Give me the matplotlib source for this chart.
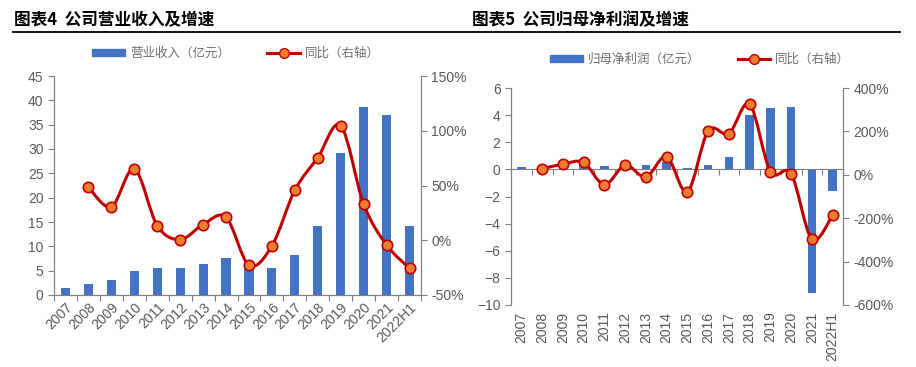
import numpy as np
import matplotlib
matplotlib.use("Agg")
import matplotlib.pyplot as plt
from matplotlib.path import Path
from matplotlib.patches import PathPatch
from matplotlib.lines import Line2D

plt.rcParams['font.family'] = ['Liberation Sans', 'Noto Sans CJK SC', 'DejaVu Sans']

# ---- data ----
years = ['2007', '2008', '2009', '2010', '2011', '2012', '2013', '2014',
         '2015', '2016', '2017', '2018', '2019', '2020', '2021', '2022H1']

revenue = [1.5, 2.3, 3.0, 4.9, 5.5, 5.6, 6.3, 7.7,
           5.8, 5.5, 8.2, 14.2, 29.1, 38.6, 36.9, 14.2]
revenue_yoy = [None, 48.4, 30.4, 65.1, 13.4, 0.6, 14.3, 21.0,
               -22.8, -5.2, 45.7, 75.5, 104.7, 32.9, -4.3, -25.6]

profit = [0.15, 0.08, 0.2, 0.4, 0.25, 0.2, 0.3, 0.55,
          0.12, 0.3, 0.9, 4.0, 4.5, 4.6, -9.15, -1.6]
profit_yoy = [None, 27.6, 49, 57, -46, 44.5, -10.7, 84,
              -78, 202, 190, 325, 15, 4.6, -297, -186]

BAR = '#4472C4'
LINE = '#C00000'
MARK = '#ED7D31'
GRAY = '#595959'
SPINE = '#808080'


def smooth_path(xs, ys):
    # Excel-like smooth line: cubic bezier through the points
    pts = np.column_stack([xs, ys])
    verts = [tuple(pts[0])]
    codes = [Path.MOVETO]
    n = len(pts)
    for i in range(n - 1):
        p0 = pts[i - 1] if i > 0 else pts[i]
        p1 = pts[i]
        p2 = pts[i + 1]
        p3 = pts[i + 2] if i + 2 < n else pts[i + 1]
        c1 = p1 + (p2 - p0) / 6.0
        c2 = p2 - (p3 - p1) / 6.0
        verts += [tuple(c1), tuple(c2), tuple(p2)]
        codes += [Path.CURVE4] * 3
    return Path(verts, codes)


def style_axis(ax):
    for s in ax.spines.values():
        s.set_color(SPINE)
    ax.spines['top'].set_visible(False)
    ax.tick_params(colors=GRAY, labelsize=10, length=4, color=SPINE)


fig = plt.figure(figsize=(9.16, 3.67), dpi=100)

# titles and rule
fig.text(14 / 916, 1 - 20 / 367, '图表4  公司营业收入及增速', fontsize=12,
         fontweight='bold', va='center', ha='left',
         family=['Noto Sans CJK SC', 'DejaVu Sans'])
fig.text(472 / 916, 1 - 20 / 367, '图表5  公司归母净利润及增速', fontsize=12,
         fontweight='bold', va='center', ha='left',
         family=['Noto Sans CJK SC', 'DejaVu Sans'])
fig.add_artist(Line2D([13 / 916, 900 / 916], [1 - 32 / 367, 1 - 32 / 367],
                      color='black', lw=1.3, transform=fig.transFigure))

x = np.arange(len(years))

# ---------------- left chart ----------------
ax1 = fig.add_axes([54 / 916, 1 - 295 / 367, 367 / 916, 219 / 367])
ax1.bar(x, revenue, width=0.4, color=BAR, zorder=2)
ax1.set_ylim(0, 45)
ax1.set_yticks(np.arange(0, 46, 5))
ax1.set_xlim(-0.5, len(years) - 0.5)
ax1.set_xticks(np.arange(-0.5, len(years), 1))
ax1.set_xticklabels([])
ax1.set_xticks(x, minor=True)
ax1.set_xticklabels(years, minor=True, rotation=45, ha='right',
                    rotation_mode='anchor')
style_axis(ax1)
ax1.tick_params(axis='x', which='minor', length=0, pad=4, labelsize=10, colors=GRAY)

ax1b = ax1.twinx()
xi = [i for i, v in enumerate(revenue_yoy) if v is not None]
yi = [v for v in revenue_yoy if v is not None]
ax1b.add_patch(PathPatch(smooth_path(xi, yi), fill=False, edgecolor=LINE, lw=2.2, zorder=3))
ax1b.plot(xi, yi, 'o', ms=7.5, mfc=MARK, mec=LINE, mew=1.2, zorder=4)
ax1b.set_ylim(-50, 150)
ax1b.set_yticks(np.arange(-50, 151, 50))
ax1b.set_yticklabels([f'{v}%' for v in range(-50, 151, 50)])
style_axis(ax1b)

h1 = [plt.Rectangle((0, 0), 1, 1, color=BAR),
      Line2D([], [], color=LINE, lw=2.2, marker='o', ms=7, mfc=MARK, mec=LINE)]
leg = fig.legend(h1, ['营业收入（亿元）', '同比（右轴）'], loc='center',
                 bbox_to_anchor=(236 / 916, 1 - 53 / 367), ncol=2, frameon=False,
                 handlelength=2.6, handleheight=0.5, columnspacing=3,
                 handletextpad=0.4, prop={'family': ['Noto Sans CJK SC'], 'size': 9})
for t in leg.get_texts():
    t.set_color('#6f6f6f')

# ---------------- right chart ----------------
ax2 = fig.add_axes([511 / 916, 1 - 305 / 367, 332 / 916, 217 / 367])
ax2.bar(x, profit, width=0.4, color=BAR, zorder=2)
ax2.set_ylim(-10, 6)
ax2.set_yticks(np.arange(-10, 7, 2))
ax2.set_xlim(-0.5, len(years) - 0.5)
ax2.spines['bottom'].set_position(('data', 0))
ax2.set_xticks(np.arange(-0.5, len(years), 1))
ax2.set_xticklabels([])
style_axis(ax2)
for i, lab in enumerate(years):
    ax2.text(i, -0.03, lab, transform=ax2.get_xaxis_transform(), rotation=90,
             ha='center', va='top', fontsize=10, color=GRAY)

ax2b = ax2.twinx()
xi = [i for i, v in enumerate(profit_yoy) if v is not None]
yi = [v for v in profit_yoy if v is not None]
ax2b.add_patch(PathPatch(smooth_path(xi, yi), fill=False, edgecolor=LINE, lw=2.2, zorder=3))
ax2b.plot(xi, yi, 'o', ms=7.5, mfc=MARK, mec=LINE, mew=1.2, zorder=4)
ax2b.set_ylim(-600, 400)
ax2b.set_yticks(np.arange(-600, 401, 200))
ax2b.set_yticklabels([f'{v}%' for v in range(-600, 401, 200)])
style_axis(ax2b)
ax2b.spines['bottom'].set_visible(False)

h2 = [plt.Rectangle((0, 0), 1, 1, color=BAR),
      Line2D([], [], color=LINE, lw=2.2, marker='o', ms=7, mfc=MARK, mec=LINE)]
leg2 = fig.legend(h2, ['归母净利润（亿元）', '同比（右轴）'], loc='center',
                  bbox_to_anchor=(700 / 916, 1 - 59 / 367), ncol=2, frameon=False,
                  handlelength=2.6, handleheight=0.5, columnspacing=3,
                  handletextpad=0.4, prop={'family': ['Noto Sans CJK SC'], 'size': 9})
for t in leg2.get_texts():
    t.set_color('#6f6f6f')

fig.savefig('out.png', dpi=100)
